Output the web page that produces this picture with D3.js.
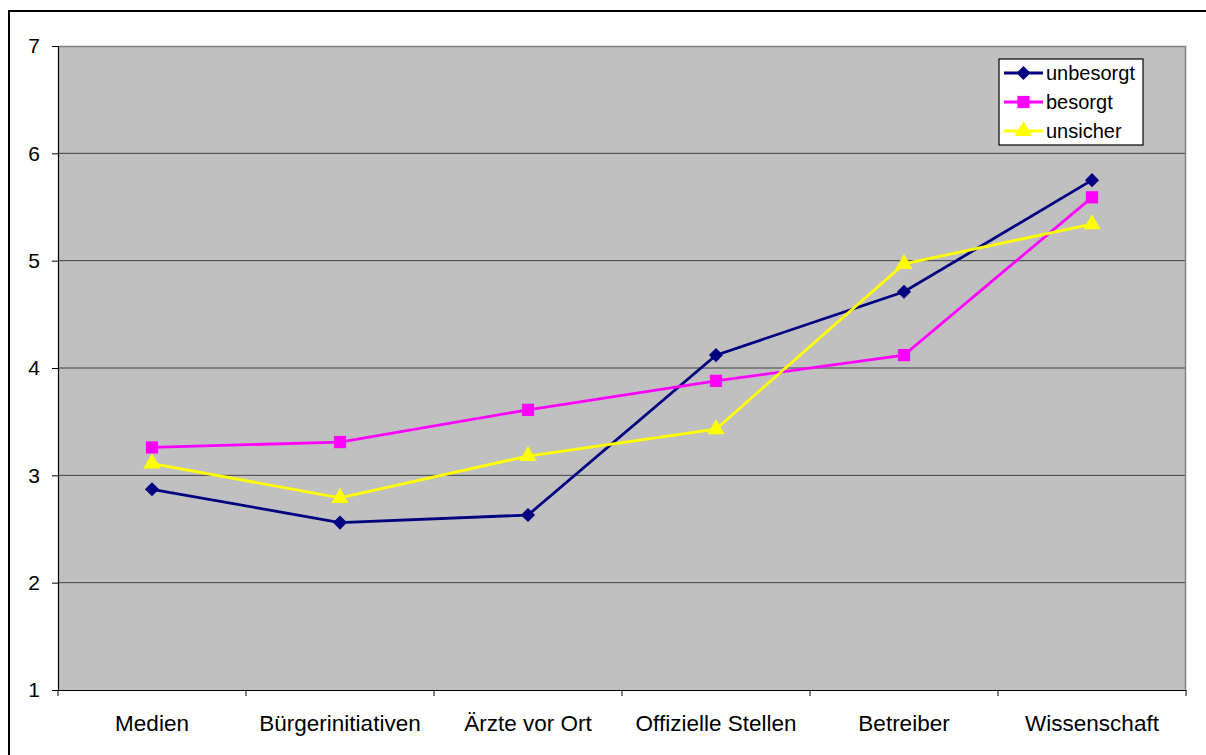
<!DOCTYPE html>
<html>
<head>
<meta charset="utf-8">
<script src="https://cdn.jsdelivr.net/npm/d3@7"></script>
<style>
  body { margin: 0; background: #fff; }
  text { font-family: "Liberation Sans", Arial, sans-serif; }
</style>
</head>
<body>
<svg width="1206" height="755"></svg>
<script>
// data
const categories = ["Medien", "Bürgerinitiativen", "Ärzte vor Ort", "Offizielle Stellen", "Betreiber", "Wissenschaft"];
const unbesorgt = [2.87, 2.56, 2.63, 4.12, 4.71, 5.75];
const besorgt   = [3.26, 3.31, 3.61, 3.88, 4.12, 5.59];
const unsicher  = [3.11, 2.79, 3.18, 3.43, 4.97, 5.34];
const yTicks = [1, 2, 3, 4, 5, 6, 7];

// diamond = square turned 45 degrees, like the Excel marker
const diamond = {
    draw(ctx, size) {
        const r = Math.sqrt(size / 2);
        ctx.moveTo(0, -r); ctx.lineTo(r, 0); ctx.lineTo(0, r); ctx.lineTo(-r, 0); ctx.closePath();
    }
};

const series = [
  {name: "unbesorgt", values: unbesorgt, color: "#000080", shape: diamond, size: 100},
  {name: "besorgt",   values: besorgt,   color: "#ff00ff", shape: d3.symbolSquare, size: 150},
  {name: "unsicher",  values: unsicher,  color: "#ffff00", shape: d3.symbolTriangle, size: 130}
];

const svg = d3.select("svg");

// outer chart border
svg.append("rect")
    .attr("x", 9).attr("y", 11)
    .attr("width", 1206).attr("height", 760)
    .attr("fill", "#fff")
    .attr("stroke", "#000")
    .attr("stroke-width", 2);

let plotLeft = 58, plotTop = 46, plotRight = 1186, plotBottom = 690;

const x = d3.scaleBand()
    .domain(categories)
    .range([plotLeft, plotRight]);

const y = d3.scaleLinear()
    .domain([1, 7])
    .range([plotBottom, plotTop]);

// plot area
svg.append("rect")
    .attr("x", plotLeft).attr("y", plotTop)
    .attr("width", plotRight - plotLeft).attr("height", plotBottom - plotTop)
    .attr("fill", "#c0c0c0");

// gridlines
svg.append("g").selectAll("line")
    .data(yTicks.filter(d => d > 1 && d < 7))
    .enter().append("line")
    .attr("x1", plotLeft).attr("x2", plotRight)
    .attr("y1", d => y(d)).attr("y2", d => y(d))
    .attr("stroke", "#404040")
    .attr("stroke-width", 1);

// top and right edge of plot area
svg.append("path")
    .attr("d", `M${plotLeft},${plotTop + 0.5}H${plotRight - 0.5}V${plotBottom}`)
    .attr("fill", "none")
    .attr("stroke", "#808080")
    .attr("stroke-width", 1.5);

// y axis
const yAxis = svg.append("g")
    .attr("transform", `translate(${plotLeft},0)`)
    .call(d3.axisLeft(y).tickValues(yTicks).tickSize(6).tickPadding(12).tickFormat(d3.format("d")));
yAxis.select(".domain").attr("stroke", "#000").attr("stroke-width", 1.2);
yAxis.selectAll(".tick line").attr("stroke", "#000");
yAxis.selectAll("text")
    .style("font-size", "21px").attr("fill", "#000")
    .style("font-family", "'Liberation Sans', Arial, sans-serif");

// x axis: ticks at category boundaries
const xAxis = svg.append("g")
    .attr("transform", `translate(0,${plotBottom})`)
    .call(d3.axisBottom(x).tickSize(0).tickPadding(25));
xAxis.select(".domain").attr("stroke", "#000").attr("stroke-width", 1.2);
xAxis.selectAll("text")
    .style("font-size", "22.5px").attr("fill", "#000")
    .style("font-family", "'Liberation Sans', Arial, sans-serif");

const bounds = categories.map(c => x(c)).concat([plotRight]);
xAxis.selectAll(".bound")
    .data(bounds)
    .enter().append("line")
    .attr("class", "bound")
    .attr("x1", d => d).attr("x2", d => d)
    .attr("y1", 0).attr("y2", 6)
    .attr("stroke", "#000");

// lines and markers
const line = d3.line()
    .x((d, i) => x(categories[i]) + x.bandwidth() / 2)
    .y(d => y(d));

series.forEach(s => {
    svg.append("path")
        .datum(s.values)
        .attr("d", line)
        .attr("fill", "none")
        .attr("stroke", s.color)
        .attr("stroke-width", 2.8);

    svg.append("g").selectAll("path")
        .data(s.values)
        .enter().append("path")
        .attr("transform", (d, i) => `translate(${x(categories[i]) + x.bandwidth() / 2},${y(d)})`)
        .attr("d", d3.symbol().type(s.shape).size(s.size))
        .attr("fill", s.color);
});

// legend
const lg = svg.append("g").attr("transform", "translate(999,59)");
lg.append("rect")
    .attr("width", 144).attr("height", 86)
    .attr("fill", "#fff")
    .attr("stroke", "#000")
    .attr("stroke-width", 1.2);

series.forEach((s, i) => {
    const cy = 14 + i * 29;
    lg.append("line")
        .attr("x1", 5).attr("x2", 44)
        .attr("y1", cy).attr("y2", cy)
        .attr("stroke", s.color)
        .attr("stroke-width", 2.8);
    lg.append("path")
        .attr("transform", `translate(24.5,${cy})`)
        .attr("d", d3.symbol().type(s.shape).size(s.size))
        .attr("fill", s.color);
    lg.append("text")
        .attr("x", 47).attr("y", cy)
        .attr("dy", "0.35em")
        .style("font-size", "20px")
        .text(s.name);
});
</script>
</body>
</html>
